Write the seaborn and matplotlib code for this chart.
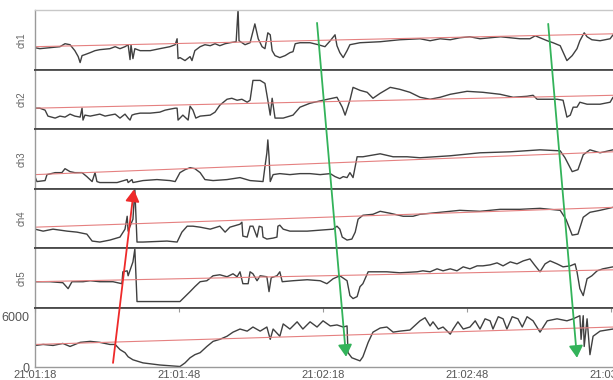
import matplotlib
matplotlib.use("Agg")
import matplotlib.pyplot as plt
import seaborn as sns
import pandas as pd
from matplotlib.patches import ConnectionPatch

# time in seconds after 21:01:18, value per channel
ch1 = [(0, 22), (1.0, 21), (3.1, 22), (5.2, 23), (6.25, 26), (7.3, 25), (8.3, 19), (9.0, 13),
       (9.4, 7), (9.8, 14), (10.4, 15), (11.5, 17), (12.5, 19), (13.5, 20), (15.6, 21), (16.7, 23),
       (17.7, 21), (18.75, 23), (19.4, 25), (19.8, 10), (20.0, 25), (20.4, 11), (20.8, 21),
       (21.9, 19), (24.0, 19), (26.0, 21), (28.1, 23), (29.2, 25), (29.6, 31), (29.8, 11),
       (30.2, 12), (31.25, 9), (32.3, 13), (32.7, 9), (33.3, 19), (34.4, 23), (35.4, 25),
       (36.5, 24), (37.5, 26), (38.5, 24), (39.6, 26), (40.6, 27), (41.9, 28), (42.3, 61),
       (42.5, 29), (43.75, 25), (44.8, 27), (45.8, 46), (46.5, 31), (47.3, 23), (47.9, 21),
       (48.5, 37), (49.0, 35), (49.4, 19), (50.0, 14), (51.0, 12), (52.1, 14), (53.1, 17),
       (53.75, 18), (54.2, 26), (55.2, 27), (57.3, 27), (59.0, 25), (60.4, 23), (61.5, 29),
       (62.5, 35), (62.9, 24), (63.5, 17), (64.2, 12), (65.0, 19), (65.6, 25), (67.7, 27),
       (71.9, 28), (76.0, 30), (80.2, 31), (82.3, 29), (84.4, 31), (86.5, 30), (88.5, 32),
       (90.6, 33), (92.7, 31), (94.8, 32), (97.0, 33), (99.0, 32), (101.0, 31), (103.1, 31),
       (104.2, 34), (106.7, 29), (107.9, 27), (109.4, 24), (110.8, 9), (111.9, 14), (112.9, 21),
       (113.5, 29), (114.4, 37), (115.0, 33), (116.0, 30), (117.7, 29), (119.8, 31), (120.4, 35)]

ch2 = [(0, 21), (1.0, 21), (2.1, 19), (2.7, 13), (4.2, 11), (5.2, 13), (6.25, 12), (7.3, 15),
       (8.3, 13), (9.4, 12), (9.8, 21), (10.0, 9), (10.4, 14), (11.5, 13), (12.5, 14), (13.5, 15),
       (14.6, 13), (15.6, 14), (16.7, 15), (17.7, 11), (18.75, 15), (19.4, 11), (19.8, 9),
       (20.2, 14), (20.8, 15), (21.9, 16), (24.0, 16), (26.0, 17), (27.1, 19), (28.1, 20),
       (29.2, 21), (29.6, 21), (29.8, 9), (30.8, 14), (31.9, 9), (32.3, 23), (32.9, 19),
       (33.5, 11), (34.4, 13), (36.5, 14), (37.5, 17), (38.5, 24), (40.0, 30), (41.0, 31),
       (42.1, 29), (43.1, 30), (44.2, 27), (44.8, 29), (45.4, 49), (46.9, 49), (47.9, 46),
       (48.5, 29), (49.0, 14), (49.4, 31), (50.0, 11), (50.6, 11), (51.7, 11), (53.75, 14),
       (55.2, 22), (57.3, 26), (60.0, 29), (62.9, 32), (64.0, 22), (64.6, 14), (65.6, 29),
       (66.25, 42), (67.7, 39), (69.2, 37), (70.4, 31), (71.9, 36), (74.0, 42), (76.0, 40),
       (78.1, 37), (80.2, 32), (82.3, 30), (84.4, 32), (86.5, 35), (90.0, 38), (93.3, 37),
       (96.9, 35), (99.6, 32), (102.5, 33), (103.75, 34), (104.6, 30), (106.7, 30),
       (108.75, 30), (110.0, 29), (110.8, 12), (111.5, 14), (112.1, 22), (112.9, 22),
       (113.5, 27), (115.0, 25), (117.7, 25), (119.8, 27), (120.4, 32)]

ch3 = [(0, 12), (0.4, 7), (2.1, 8), (2.5, 14), (4.2, 16), (5.6, 16), (6.25, 20), (7.3, 17),
       (8.3, 16), (9.8, 16), (10.8, 12), (11.9, 7), (12.5, 16), (12.9, 7), (13.5, 6), (17.1, 6),
       (19.2, 9), (19.4, 6), (20.2, 9), (20.4, 6), (22.5, 8), (25.4, 9), (28.1, 8), (29.2, 7),
       (30.2, 16), (31.25, 19), (32.3, 21), (33.3, 20), (34.4, 16), (35.4, 9), (37.1, 8),
       (40.0, 9), (42.7, 11), (44.8, 8), (47.5, 7), (47.9, 22), (48.3, 36), (48.5, 49),
       (48.75, 32), (49.0, 7), (49.6, 14), (51.0, 15), (53.1, 14), (55.2, 15), (57.3, 15),
       (59.4, 14), (61.5, 15), (62.5, 12), (63.5, 10), (64.2, 12), (65.0, 11), (65.6, 16),
       (66.25, 11), (67.1, 32), (68.3, 32), (71.9, 35), (74.6, 32), (77.5, 32), (80.2, 31),
       (86.5, 33), (92.7, 36), (99.0, 37), (105.2, 39), (109.4, 38), (110.4, 31), (111.9, 17),
       (113.1, 19), (114.2, 34), (115.6, 39), (117.7, 36), (120.4, 39)]

ch4 = [(0, 19), (1.7, 17), (3.75, 19), (6.7, 17), (8.75, 16), (10.8, 14), (11.9, 7), (13.5, 6),
       (15.6, 8), (17.7, 11), (18.75, 19), (19.2, 32), (19.4, 17), (19.8, 22), (20.4, 29),
       (20.8, 59), (21.25, 6), (22.5, 6), (27.5, 7), (29.6, 6), (30.6, 16), (31.7, 22),
       (32.9, 22), (34.4, 21), (36.5, 19), (38.5, 22), (39.6, 16), (40.6, 21), (42.7, 24),
       (43.1, 26), (43.3, 12), (44.2, 11), (44.8, 22), (45.4, 22), (46.25, 11), (46.7, 22),
       (47.3, 21), (47.5, 11), (48.3, 9), (49.6, 10), (50.4, 11), (50.6, 22), (51.0, 23),
       (51.7, 19), (53.1, 17), (56.7, 17), (59.4, 18), (62.1, 19), (62.9, 22), (63.5, 19),
       (64.0, 11), (65.0, 8), (66.0, 9), (66.7, 16), (67.3, 29), (68.3, 33), (70.4, 34),
       (71.9, 37), (74.0, 35), (76.7, 32), (78.75, 32), (80.2, 34), (84.4, 36), (88.5, 38),
       (92.7, 37), (96.9, 39), (101.0, 39), (105.2, 40), (109.4, 38), (110.6, 29), (111.9, 13),
       (113.1, 14), (114.2, 31), (115.6, 36), (117.7, 38), (120.4, 41)]

ch5 = [(0, 26), (3.1, 26), (5.8, 25), (6.9, 19), (7.7, 26), (10.0, 26), (11.5, 27), (13.5, 26),
       (16.25, 26), (18.1, 24), (18.3, 36), (19.2, 37), (19.4, 32), (20.4, 46), (20.8, 59),
       (21.25, 6), (30.2, 6), (31.25, 11), (32.3, 16), (33.3, 21), (34.4, 26), (35.8, 27),
       (37.1, 32), (38.5, 33), (40.0, 31), (41.25, 34), (42.1, 31), (42.7, 36), (43.3, 24),
       (44.4, 24), (44.8, 36), (45.4, 34), (46.25, 27), (46.9, 32), (48.3, 31), (48.75, 16),
       (49.2, 30), (50.4, 32), (51.0, 36), (51.5, 26), (53.75, 27), (56.7, 28), (59.4, 27),
       (60.8, 24), (62.1, 29), (63.5, 32), (65.0, 27), (65.6, 12), (66.25, 9), (67.1, 11),
       (67.7, 21), (68.3, 24), (69.4, 36), (71.25, 36), (73.3, 36), (76.0, 35), (79.6, 36),
       (80.8, 37), (82.3, 36), (83.75, 39), (85.0, 37), (86.5, 39), (87.9, 37), (89.2, 41),
       (90.6, 39), (92.1, 42), (93.3, 42), (94.8, 43), (96.25, 45), (97.5, 42), (99.0, 46),
       (100.4, 44), (101.7, 47), (103.1, 49), (104.2, 42), (105.2, 36), (106.25, 44),
       (107.3, 47), (108.75, 44), (110.0, 41), (111.5, 42), (112.5, 44), (112.9, 36),
       (113.5, 19), (114.2, 12), (115.0, 29), (116.0, 32), (117.1, 37), (118.3, 39), (120.4, 41)]

ch6 = [(0, 2570), (1.7, 2690), (3.75, 2570), (5.8, 2810), (7.3, 2450), (9.4, 2940), (11.5, 3060),
       (13.5, 2940), (15.6, 2690), (16.7, 2690), (17.7, 2080), (18.75, 1710), (19.4, 1220),
       (20.4, 860), (22.5, 490), (26.0, 240), (28.75, 120), (30.2, 60), (31.25, 490), (32.3, 1100),
       (33.3, 1470), (34.4, 1710), (35.8, 2450), (37.1, 3060), (38.5, 3300), (40.0, 3670),
       (41.25, 4160), (42.7, 4530), (44.2, 4280), (45.4, 4770), (46.9, 4280), (48.3, 4770),
       (49.0, 3300), (49.6, 4530), (51.0, 3670), (51.7, 5140), (53.1, 4530), (54.6, 5390),
       (55.8, 4530), (57.3, 5390), (58.75, 4770), (60.0, 5510), (61.5, 4900), (62.9, 5020),
       (64.2, 4770), (65.0, 4900), (65.2, 1710), (66.0, 1100), (67.1, 860), (67.7, 730),
       (68.3, 1220), (69.4, 2940), (70.4, 4160), (71.9, 4650), (73.3, 4770), (74.6, 4160),
       (76.0, 4280), (78.1, 4410), (80.2, 5510), (81.25, 5880), (82.3, 4900), (82.9, 5390),
       (84.0, 4530), (85.0, 4770), (86.5, 3920), (87.1, 4530), (88.1, 5390), (89.2, 4530),
       (90.6, 4770), (91.7, 5510), (92.7, 4530), (93.75, 5750), (94.8, 5510), (95.4, 4530),
       (96.5, 6000), (97.5, 5750), (98.3, 4530), (99.4, 6000), (100.6, 5750), (101.5, 4770),
       (102.5, 6000), (103.75, 5510), (105.2, 4160), (106.7, 5510), (108.75, 5750),
       (110.8, 5510), (112.1, 5750), (113.5, 6120), (113.75, 3300), (114.2, 6120),
       (114.4, 2450), (115.0, 5750), (115.6, 1470), (116.25, 3670), (117.7, 4280), (120.4, 4530)]

channels = ["ch1", "ch2", "ch3", "ch4", "ch5", "ch6"]
series = [ch1, ch2, ch3, ch4, ch5, ch6]
ylims = [60, 60, 60, 60, 60, 7100]
trend_start = [23, 21, 14, 21, 26, 2690]
trend_end = [36, 34, 37, 41, 38, 4770]
t_end = 120.4

tick_sec = [0, 30, 60, 90, 120]
tick_labels = ["21:01:18", "21:01:48", "21:02:18", "21:02:48", "21:03:18"]
ch6_ticks = [0, 6000]

# (panel from, t, value, panel to, t, value, colour)
arrows = [(5, 16.25, 490, 3, 20.6, 59, "#ee2a2a"),
          (0, 58.75, 47, 5, 64.8, 1220, "#33b35a"),
          (0, 106.9, 46, 5, 112.9, 1100, "#33b35a")]

sns.set_style("white")
plt.rcParams['font.family'] = ['Liberation Sans', 'DejaVu Sans']

fig, axes = plt.subplots(6, 1, sharex=True, figsize=(6.13, 3.8), dpi=100)
fig.subplots_adjust(left=35 / 613, right=1.0, top=1 - 10 / 380, bottom=1 - 367 / 380, hspace=0)

for i, ax in enumerate(axes):
    df = pd.DataFrame(series[i], columns=["t", "v"])
    sns.lineplot(data=df, x="t", y="v", ax=ax, color="#404040", linewidth=1.0,
                 estimator=None, sort=False)
    ax.plot([0, t_end], [trend_start[i], trend_end[i]], color="#e58080", linewidth=0.8)
    ax.set_xlim(0, t_end)
    ax.set_ylim(0, ylims[i])
    ax.set_xlabel("")
    ax.set_ylabel("")
    for s in ["top", "bottom"]:
        ax.spines[s].set_color("#4a4a4a")
        ax.spines[s].set_linewidth(1.3)
    ax.spines["left"].set_color("#9a9a9a")
    ax.spines["left"].set_linewidth(1.0)
    ax.spines["right"].set_visible(False)
    if i < 5:
        ax.set_yticks([])
        ax.set_ylabel(channels[i], fontsize=7, color="#666666")
        ax.yaxis.set_label_coords(-0.014, 0.5)
        ax.tick_params(axis="x", bottom=False)

axes[0].spines["top"].set_color("#c8c8c8")
axes[0].spines["top"].set_linewidth(1.0)
axes[5].spines["bottom"].set_color("#9a9a9a")
axes[5].spines["bottom"].set_linewidth(1.0)
axes[5].set_yticks(ch6_ticks)
axes[5].set_yticklabels([str(v) for v in ch6_ticks])
axes[5].tick_params(axis="y", direction="out", length=3, width=0.8, colors="#9a9a9a",
                    labelcolor="#555555", labelsize=9, pad=1)
axes[5].set_xticks(tick_sec)
axes[5].set_xticklabels(tick_labels)
axes[5].tick_params(axis="x", direction="in", length=3, width=0.8, colors="#9a9a9a",
                    labelcolor="#555555", labelsize=8, pad=2, top=True)

for pa, ta, va, pb, tb, vb, col in arrows:
    con = ConnectionPatch(xyA=(ta, va), coordsA=axes[pa].transData,
                          xyB=(tb, vb), coordsB=axes[pb].transData,
                          arrowstyle="-|>,head_length=0.6,head_width=0.35",
                          mutation_scale=12, color=col, linewidth=1.3)
    fig.add_artist(con)

fig.savefig("out.png", dpi=100)
